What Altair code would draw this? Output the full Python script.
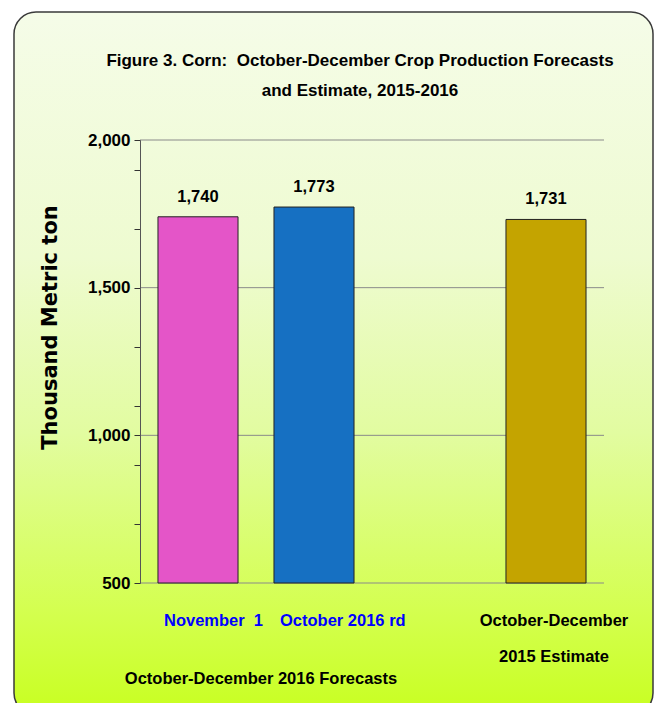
import altair as alt
import pandas as pd

# ---- data ----
categories = ["November 1", "October 2016 rd", "October-December 2015 Estimate"]
values = [1740, 1773, 1731]
bar_colors = ["#e455c8", "#1670c2", "#c4a400"]
x_domain = ["November 1", "October 2016 rd", "spacer", "October-December 2015 Estimate"]
x_labels = ["November\u00a0 1", "October 2016 rd", "October-December\n2015 Estimate"]
label_kind = ["forecast", "forecast", "estimate"]
label_colors = ["#0000ff", "#0000ff", "#000000"]
group_label = "October-December 2016 Forecasts"
y_ticks = [500, 700, 900, 1000, 1100, 1300, 1500, 1700, 1900, 2000]
grid_values = [500, 1000, 1500, 2000]
title_text = ("Figure 3. Corn:\u00a0 October-December Crop Production Forecasts\n"
              "and Estimate, 2015-2016")
y_title = "Thousand Metric ton"

FONT = "Liberation Sans, Arial, sans-serif"
W, H = 464, 443

df = pd.DataFrame({"cat": categories, "value": values, "label": x_labels,
                   "kind": label_kind, "fmt": [f"{v:,}" for v in values]})
grid_df = pd.DataFrame({"v": grid_values})
one = pd.DataFrame({"a": [0]})

xscale = alt.Scale(domain=x_domain, paddingInner=0.31, paddingOuter=0.155)
yscale = alt.Scale(domain=[500, 2000], zero=False, nice=False)
yaxis = alt.Axis(
    values=y_ticks, grid=False, zindex=1,
    labelExpr="datum.value % 500 == 0 ? format(datum.value, ',') : ''",
    labelFont=FONT, labelFontSize=17, labelFontWeight="bold", labelColor="black",
    labelPadding=4, tickSize=6, tickColor="#333333", domainColor="#555555",
    title=y_title, titleFont="DejaVu Sans", titleFontSize=21, titleFontWeight="bold",
    titleColor="black", titleAngle=270, titleX=-90, titleY=187,
    titleAlign="center", titleBaseline="middle")

frame = alt.Chart(one).mark_rect(
    cornerRadius=22, stroke="#3a3a3a", strokeWidth=1.5,
    fill=alt.Gradient(gradient="linear", x1=0, x2=0, y1=0, y2=1, stops=[
        alt.GradientStop(color="#f5fce8", offset=0),
        alt.GradientStop(color="#eefbd0", offset=0.35),
        alt.GradientStop(color="#e2fca0", offset=0.6),
        alt.GradientStop(color="#d4ff50", offset=0.85),
        alt.GradientStop(color="#c8ff20", offset=1),
    ])
).encode(x=alt.value(-126), x2=alt.value(513), y=alt.value(-128), y2=alt.value(575))

grid = alt.Chart(grid_df).mark_rule(color="#8a8a8a", strokeWidth=1).encode(
    y=alt.Y("v:Q", scale=yscale, axis=yaxis), x=alt.value(0), x2=alt.value(W))

bars = alt.Chart(df).mark_bar(stroke="#222222", strokeWidth=1).encode(
    x=alt.X("cat:N", scale=xscale, axis=None),
    y=alt.Y("value:Q", scale=yscale, axis=yaxis),
    y2=alt.datum(500),
    color=alt.Color("cat:N", scale=alt.Scale(domain=categories, range=bar_colors), legend=None),
)

vals = alt.Chart(df).mark_text(font=FONT, fontSize=16.5, fontWeight="bold",
                               baseline="bottom", dy=-12, color="black").encode(
    x=alt.X("cat:N", scale=xscale, axis=None),
    y=alt.Y("value:Q", scale=yscale, axis=yaxis),
    text="fmt:N")

label_color = alt.Color("cat:N", scale=alt.Scale(domain=categories, range=label_colors),
                        legend=None)

xlab_fc = alt.Chart(df).transform_filter(alt.datum.kind == "forecast").mark_text(
    font=FONT, fontSize=16.5, fontWeight="bold", baseline="top", align="left", dx=-34
).encode(
    x=alt.X("cat:N", scale=xscale, axis=None),
    y=alt.value(H + 30),
    text="label:N",
    color=label_color,
)

xlab_est = alt.Chart(df).transform_filter(alt.datum.kind == "estimate").mark_text(
    font=FONT, fontSize=16.5, fontWeight="bold", baseline="top", align="center",
    lineBreak="\n", lineHeight=36, dx=8
).encode(
    x=alt.X("cat:N", scale=xscale, axis=None),
    y=alt.value(H + 30),
    text="label:N",
    color=label_color,
)

glab = alt.Chart(pd.DataFrame({"t": [group_label]})).mark_text(
    font=FONT, fontSize=16.5, fontWeight="bold", baseline="middle", color="black"
).encode(x=alt.value(121), y=alt.value(H + 96), text="t:N")

title = alt.Chart(pd.DataFrame({"t": [title_text]})).mark_text(
    font=FONT, fontSize=17, fontWeight="bold", baseline="middle", align="center",
    lineBreak="\n", lineHeight=30, color="black"
).encode(x=alt.value(220), y=alt.value(-79), text="t:N")

chart = alt.layer(frame, grid, bars, vals, xlab_fc, xlab_est, glab, title).resolve_scale(
    color="independent").properties(
    width=W, height=H,
    autosize=alt.AutoSizeParams(type="none"),
    padding={"left": 132, "top": 132, "right": 51, "bottom": 120},
    background="white",
).configure_view(stroke=None)

chart.save("out.html", embed_options={"renderer": "svg", "actions": False})
